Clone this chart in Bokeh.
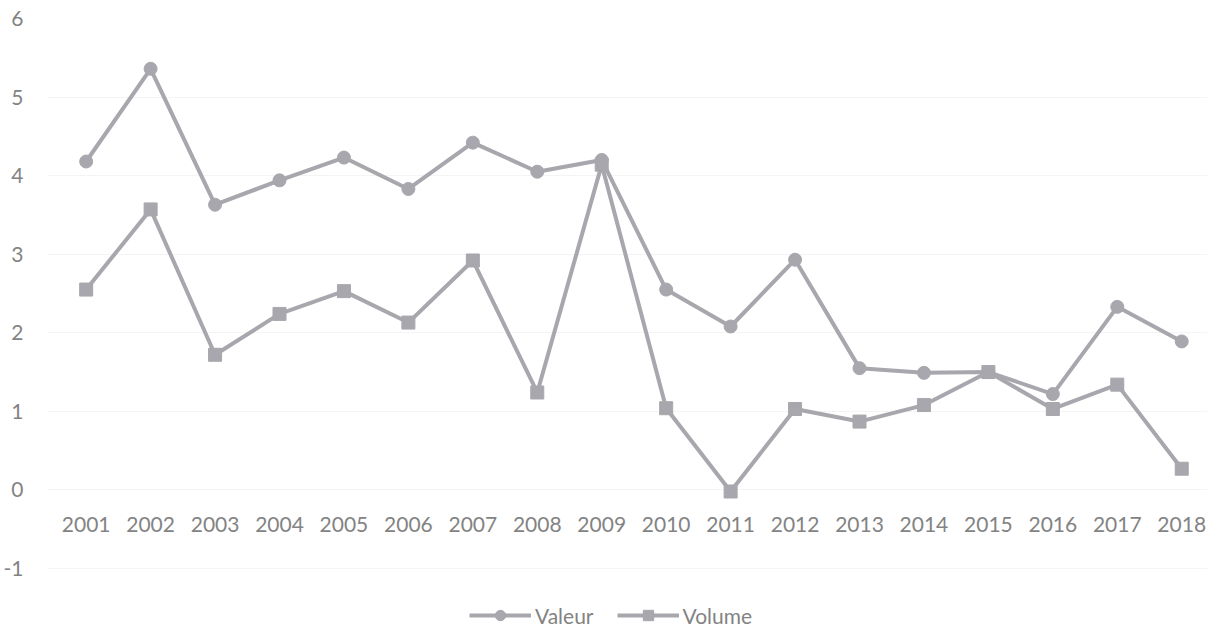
from bokeh.plotting import figure
from bokeh.models import Range1d, FixedTicker, Legend, LegendItem, ColumnDataSource
from bokeh.embed import file_html
from bokeh.resources import INLINE
from bokeh.core.properties import value

years = list(range(2001, 2019))
year_labels = [str(y) for y in years]
valeur = [4.18, 5.36, 3.63, 3.94, 4.23, 3.83, 4.42, 4.05, 4.20, 2.55, 2.08, 2.93, 1.55, 1.49, 1.50, 1.22, 2.33, 1.89]
volume = [2.55, 3.57, 1.72, 2.24, 2.53, 2.13, 2.92, 1.24, 4.14, 1.04, -0.02, 1.03, 0.87, 1.08, 1.50, 1.03, 1.34, 0.27]
y_ticks = [-1, 0, 1, 2, 3, 4, 5, 6]
y_tick_labels = ["-1", "0", "1", "2", "3", "4", "5", "6"]

COLOR = "#a7a7ad"
TEXT = "#838383"
FONT = "Lato"

p = figure(width=1215, height=627, output_backend="svg", toolbar_location=None,
           x_range=Range1d(2000.40, 2018.40), y_range=Range1d(-1.751, 6),
           min_border_left=47, min_border_right=8, min_border_top=18, min_border_bottom=0)
p.outline_line_color = None
p.background_fill_color = "white"

p.xaxis.visible = False

p.yaxis.ticker = FixedTicker(ticks=y_ticks)
p.yaxis.major_label_overrides = {t: l for t, l in zip(y_ticks, y_tick_labels)}
p.yaxis.axis_line_color = None
p.yaxis.major_tick_line_color = None
p.yaxis.minor_tick_line_color = None
p.yaxis.major_label_standoff = 18
p.yaxis.major_label_text_font = FONT
p.yaxis.major_label_text_font_size = "21px"
p.yaxis.major_label_text_color = TEXT

p.xgrid.grid_line_color = None
p.ygrid.ticker = FixedTicker(ticks=y_ticks)
p.ygrid.grid_line_color = "#f4f4f4"
p.ygrid.grid_line_width = 1

# category labels sitting just under the zero line
lab_src = ColumnDataSource(dict(x=years, y=[0] * len(years), t=year_labels))
p.text(x="x", y="y", text="t", source=lab_src, y_offset=35,
       text_align="center", text_baseline="middle",
       text_font=value(FONT), text_font_size="21px", text_color=TEXT)

l1 = p.line(years, valeur, line_color=COLOR, line_width=4)
m1 = p.scatter(years, valeur, marker="circle", size=13, fill_color=COLOR, line_color=COLOR)
l2 = p.line(years, volume, line_color=COLOR, line_width=4)
m2 = p.scatter(years, volume, marker="square", size=13, fill_color=COLOR, line_color=COLOR)

legend = Legend(items=[LegendItem(label="Valeur", renderers=[l1, m1]),
                       LegendItem(label="Volume", renderers=[l2, m2])],
                orientation="horizontal", location=(422, -1),
                label_text_font=FONT, label_text_font_size="21px", label_text_color=TEXT,
                glyph_width=62, glyph_height=26, label_standoff=4, spacing=23,
                border_line_color=None, background_fill_alpha=0, padding=0, margin=0)
p.add_layout(legend, "center")

open("out.html", "w").write(file_html(p, INLINE))
